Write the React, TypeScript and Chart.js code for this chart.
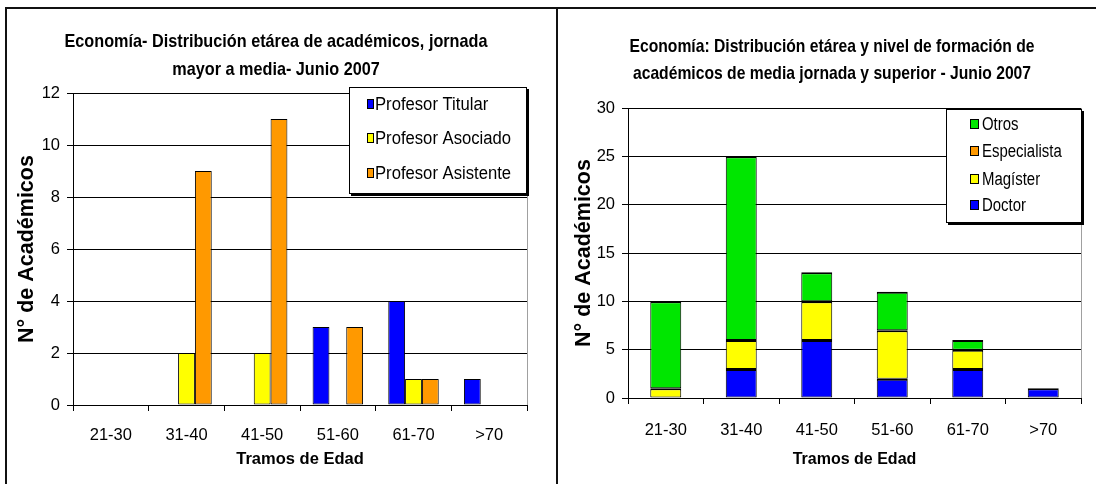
import React, { useEffect, useRef } from 'react';
import { Chart, registerables } from 'chart.js';

Chart.register(...registerables);

// ---------- data ----------
const categories = ['21-30', '31-40', '41-50', '51-60', '61-70', '>70'];

const titularValues = [0, 0, 0, 3, 4, 1];
const asociadoValues = [0, 2, 2, 0, 1, 0];
const asistenteValues = [0, 9, 11, 3, 1, 0];

const doctorValues = [0, 3, 6, 2, 3, 1];
const magisterValues = [1, 3, 4, 5, 2, 0];
const especialistaValues = [0, 0, 0, 0, 0, 0];
const otrosValues = [9, 19, 3, 4, 1, 0];

const leftTitle = ['Economía- Distribución etárea de académicos, jornada', 'mayor a media- Junio 2007'];
const rightTitle = ['Economía: Distribución etárea y nivel de formación de', 'académicos de media jornada y superior - Junio 2007'];
const xAxisTitle = 'Tramos de Edad';
const yAxisTitle = 'N° de Académicos';
const leftYMax = 12;
const leftYStep = 2;
const rightYMax = 30;
const rightYStep = 5;

// ---------- styling ----------
const FONT = "'Liberation Sans', Arial, sans-serif";
const BLUE = '#0000FF';
const YELLOW = '#FFFF00';
const ORANGE = '#FF9900';
const GREEN = '#00E600';

type LegendSpec = {
  x: number; y: number; w: number; h: number;
  swatchX: number; swatchW: number; swatchH: number; textX: number; textScale: number;
  rowYs: number[]; order: number[];
};

function titlePlugin(lines: string[], cx: number, ys: number[], targetWidth: number) {
  return {
    id: 'panelTitle',
    afterDraw(chart: any) {
      const ctx = chart.ctx;
      ctx.save();
      ctx.font = `bold 18.5px ${FONT}`;
      ctx.fillStyle = '#000';
      ctx.textAlign = 'center';
      ctx.textBaseline = 'middle';
      const s = targetWidth / ctx.measureText(lines[0]).width;
      lines.forEach((t, i) => {
        ctx.save();
        ctx.translate(cx, ys[i]);
        ctx.scale(s, 1);
        ctx.fillText(t, 0, 0);
        ctx.restore();
      });
      ctx.restore();
    },
  };
}

function legendPlugin(spec: LegendSpec) {
  return {
    id: 'boxLegend',
    afterDraw(chart: any) {
      const ctx = chart.ctx;
      const { x, y, w, h } = spec;
      ctx.save();
      ctx.fillStyle = '#000';
      ctx.fillRect(x + 2, y + 2, w, h);
      ctx.fillStyle = '#fff';
      ctx.fillRect(x, y, w, h);
      ctx.strokeStyle = '#000';
      ctx.lineWidth = 1;
      ctx.strokeRect(x + 0.5, y + 0.5, w - 1, h - 1);
      ctx.font = `18px ${FONT}`;
      ctx.textAlign = 'left';
      ctx.textBaseline = 'middle';
      spec.order.forEach((di, i) => {
        const ds = chart.data.datasets[di];
        const cy = spec.rowYs[i];
        const sy = Math.round(cy - spec.swatchH / 2);
        ctx.fillStyle = ds.backgroundColor;
        ctx.fillRect(spec.swatchX, sy, spec.swatchW, spec.swatchH);
        ctx.strokeStyle = '#000';
        ctx.strokeRect(spec.swatchX + 0.5, sy + 0.5, spec.swatchW - 1, spec.swatchH - 1);
        ctx.fillStyle = '#000';
        ctx.save();
        ctx.translate(spec.textX, cy + 1);
        ctx.scale(spec.textScale, 1);
        ctx.fillText(ds.label, 0, 0);
        ctx.restore();
      });
      ctx.restore();
    },
  };
}

const rightEdgePlugin = {
  id: 'rightEdge',
  beforeDatasetsDraw(chart: any) {
    const { ctx, chartArea } = chart;
    ctx.save();
    ctx.strokeStyle = '#a0a0a0';
    ctx.lineWidth = 1;
    const x = Math.round(chartArea.right) + 0.5;
    ctx.beginPath();
    ctx.moveTo(x, chartArea.top);
    ctx.lineTo(x, chartArea.bottom);
    ctx.stroke();
    ctx.restore();
  },
};

function scales(opts: {
  yMax: number; yStep: number; yWidth: number; xHeight: number; yTitlePad: number;
  stacked: boolean; xLabelPad: number; tickSize: number; xTitleSize: number; yTitleSize: number;
}) {
  return {
    x: {
      stacked: opts.stacked,
      grid: { display: true, drawOnChartArea: false, color: '#000', tickLength: 6, offset: true },
      border: { display: true, color: '#000', width: 1 },
      ticks: { color: '#000', font: { family: FONT, size: opts.tickSize }, padding: opts.xLabelPad, maxRotation: 0, autoSkip: false },
      title: { display: true, text: xAxisTitle, color: '#000', font: { family: FONT, size: opts.xTitleSize, weight: 'bold' }, padding: { top: 0, bottom: 15 } },
      afterFit: (s: any) => { s.height = opts.xHeight; },
    },
    y: {
      stacked: opts.stacked,
      min: 0,
      max: opts.yMax,
      grid: { color: '#000', lineWidth: 1, tickLength: 6, drawTicks: true },
      border: { display: true, color: '#000', width: 1 },
      ticks: { stepSize: opts.yStep, color: '#000', font: { family: FONT, size: opts.tickSize }, padding: 7 },
      title: { display: true, text: yAxisTitle, color: '#000', font: { family: FONT, size: opts.yTitleSize, weight: 'bold' }, padding: { top: opts.yTitlePad, bottom: 0 } },
      afterFit: (s: any) => { s.width = opts.yWidth; },
    },
  };
}

function leftConfig(): any {
  return {
    type: 'bar',
    data: {
      labels: categories,
      datasets: [
        { label: 'Profesor Titular', data: titularValues, backgroundColor: BLUE },
        { label: 'Profesor Asociado', data: asociadoValues, backgroundColor: YELLOW },
        { label: 'Profesor Asistente', data: asistenteValues, backgroundColor: ORANGE },
      ].map((d) => ({ ...d, borderColor: '#000', borderWidth: 1, borderSkipped: false, categoryPercentage: 0.667, barPercentage: 1 })),
    },
    options: {
      responsive: false,
      animation: false,
      devicePixelRatio: 1,
      layout: { padding: { top: 93, left: 0, right: 29, bottom: 0 } },
      plugins: { legend: { display: false }, title: { display: false }, tooltip: { enabled: false } },
      scales: scales({ yMax: leftYMax, yStep: leftYStep, yWidth: 73, xHeight: 79, yTitlePad: 14, stacked: false, xLabelPad: 15, tickSize: 16.5, xTitleSize: 16.5, yTitleSize: 21.5 }),
    },
    plugins: [
      rightEdgePlugin,
      titlePlugin(leftTitle, 276, [42, 70], 423),
      legendPlugin({ x: 349, y: 87, w: 178, h: 107, swatchX: 367, swatchW: 7, swatchH: 10, textX: 375, textScale: 0.925, rowYs: [104, 138, 173], order: [0, 1, 2] }),
    ],
  };
}

function rightConfig(): any {
  return {
    type: 'bar',
    data: {
      labels: categories,
      datasets: [
        { label: 'Doctor', data: doctorValues, backgroundColor: BLUE },
        { label: 'Magíster', data: magisterValues, backgroundColor: YELLOW },
        { label: 'Especialista', data: especialistaValues, backgroundColor: ORANGE },
        { label: 'Otros', data: otrosValues, backgroundColor: GREEN },
      ].map((d) => ({
        ...d,
        borderColor: '#000',
        borderWidth: { top: 2, bottom: 1, left: 1, right: 1 },
        borderSkipped: false,
        categoryPercentage: 1,
        barPercentage: 0.41,
      })),
    },
    options: {
      responsive: false,
      animation: false,
      devicePixelRatio: 1,
      layout: { padding: { top: 108, left: 0, right: 15, bottom: 0 } },
      plugins: { legend: { display: false }, title: { display: false }, tooltip: { enabled: false } },
      scales: scales({ yMax: rightYMax, yStep: rightYStep, yWidth: 70, xHeight: 86, yTitlePad: 13, stacked: true, xLabelPad: 17, tickSize: 16.5, xTitleSize: 16, yTitleSize: 21.5 }),
    },
    plugins: [
      rightEdgePlugin,
      titlePlugin(rightTitle, 274, [47, 74], 405),
      legendPlugin({ x: 388, y: 109, w: 136, h: 114, swatchX: 412, swatchW: 9, swatchH: 10, textX: 424, textScale: 0.83, rowYs: [124, 151, 179, 205], order: [3, 2, 1, 0] }),
    ],
  };
}

function ChartBox({ make, left, width }: { make: () => any; left: number; width: number }) {
  const ref = useRef<HTMLCanvasElement>(null);
  useEffect(() => {
    const chart = new Chart(ref.current as HTMLCanvasElement, make());
    return () => chart.destroy();
  }, []);
  return (
    <canvas
      ref={ref}
      width={width}
      height={484}
      style={{ position: 'absolute', left, top: 0, width, height: 484, display: 'block' }}
    />
  );
}

export default function App() {
  const line = (s: React.CSSProperties) => (
    <div style={{ position: 'absolute', background: '#111', pointerEvents: 'none', ...s }} />
  );
  return (
    <div style={{ position: 'fixed', left: 0, top: 0, width: 1096, height: 484, background: '#fff', overflow: 'hidden' }}>
      <ChartBox make={leftConfig} left={0} width={556} />
      <ChartBox make={rightConfig} left={558} width={538} />
      {line({ left: 5, top: 7, width: 1091, height: 2 })}
      {line({ left: 5, top: 7, width: 2, height: 477 })}
      {line({ left: 556, top: 7, width: 2, height: 477 })}
    </div>
  );
}
